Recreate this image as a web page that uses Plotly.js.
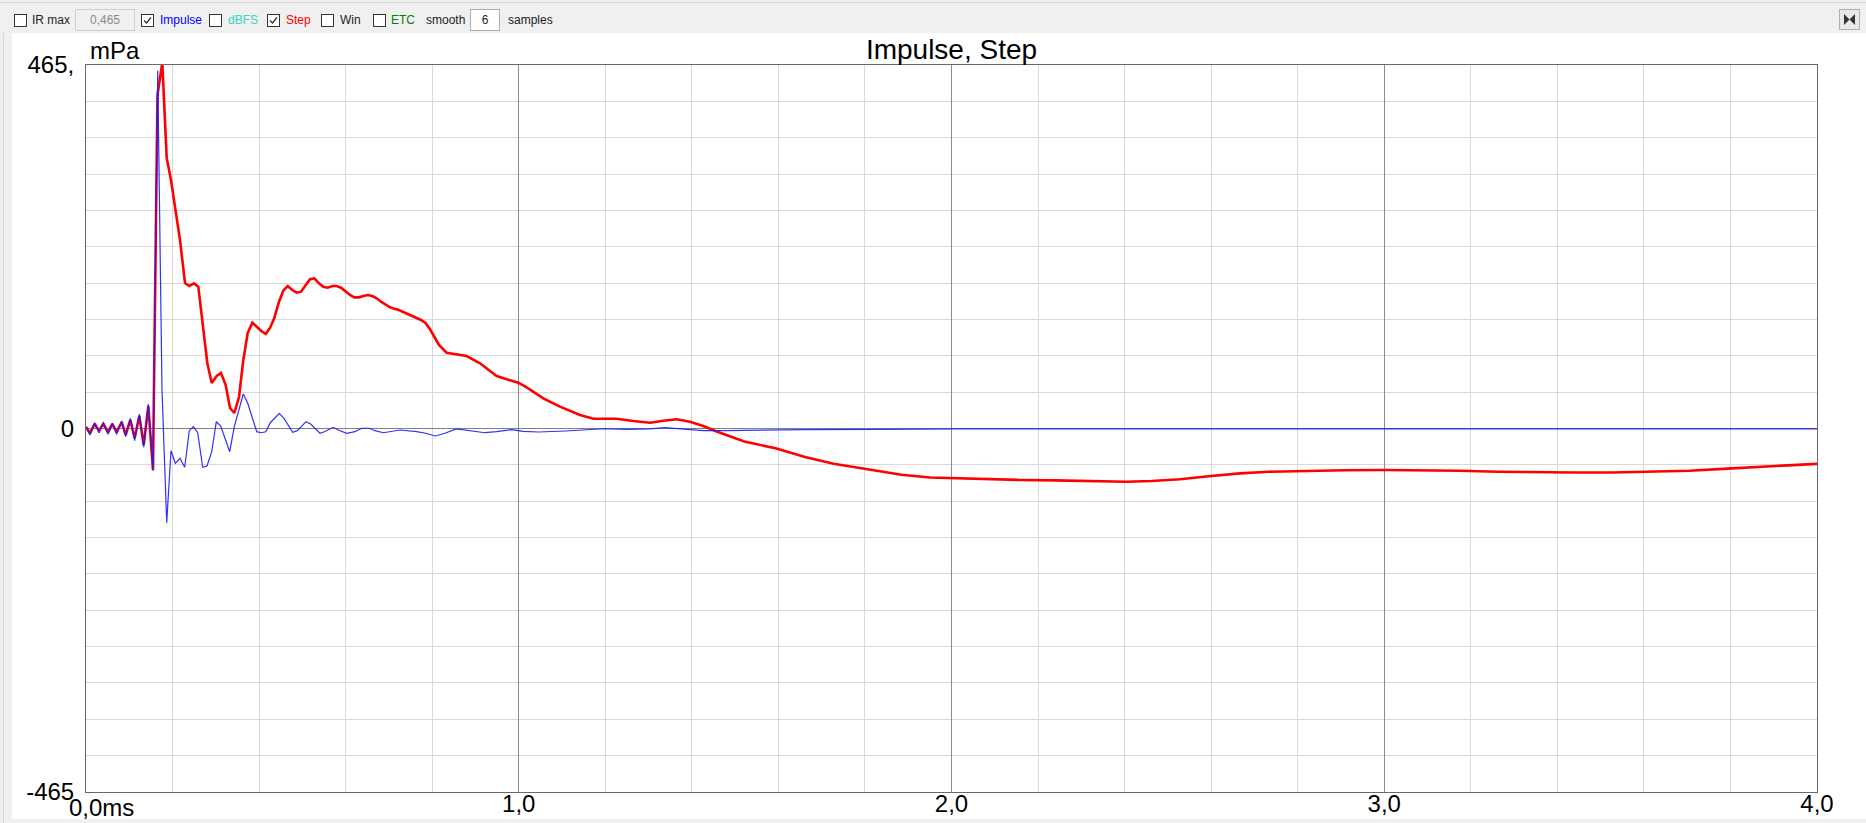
<!DOCTYPE html>
<html>
<head>
<meta charset="utf-8">
<script src="https://cdn.plot.ly/plotly-3.0.1.min.js"></script>
<style>
  html, body { margin:0; padding:0; }
  body { width:1866px; height:823px; background:#f0f0f0; position:relative; overflow:hidden;
         font-family: Arial, "Liberation Sans", sans-serif; }
  .tb { position:absolute; top:13px; font-size:12px; line-height:14px; color:#222; white-space:nowrap; }
  .cb { position:absolute; top:14px; width:11px; height:11px; border:1px solid #333; background:#fff; }
  .box { position:absolute; top:9px; height:20px; border:1px solid #adadad; font-size:12px; line-height:20px; text-align:center; }
  #panel { position:absolute; left:12px; top:33px; width:1854px; height:786px; background:#fff; }
  #chart { position:absolute; left:12px; top:33px; width:1854px; height:790px; }
</style>
</head>
<body>
<div style="position:absolute;left:0;top:2px;width:1866px;height:1px;background:#d6d6d6"></div>
<div style="position:absolute;left:3px;top:33px;width:1px;height:790px;background:#d6d6d6"></div>

<div class="cb" style="left:14px"></div><div class="tb" style="left:32px">IR max</div>
<div class="box" style="left:75px;width:58px;background:#f0f0f0;color:#8a8a8a;border-color:#cfcfcf">0,465</div>
<div class="cb" style="left:141px"><svg width="11" height="11" style="position:absolute;left:0;top:0"><polyline points="2,5.5 4.5,8 9,2.5" fill="none" stroke="#333" stroke-width="1.3"/></svg></div>
<div class="tb" style="left:160px;color:#0000ff">Impulse</div>
<div class="cb" style="left:209px"></div><div class="tb" style="left:228px;color:#40d0c8">dBFS</div>
<div class="cb" style="left:267px"><svg width="11" height="11" style="position:absolute;left:0;top:0"><polyline points="2,5.5 4.5,8 9,2.5" fill="none" stroke="#333" stroke-width="1.3"/></svg></div>
<div class="tb" style="left:286px;color:#ff0000">Step</div>
<div class="cb" style="left:321px"></div><div class="tb" style="left:340px">Win</div>
<div class="cb" style="left:373px"></div><div class="tb" style="left:391px;color:#008000">ETC</div>
<div class="tb" style="left:426px">smooth</div>
<div class="box" style="left:470px;width:28px;background:#fff;color:#222">6</div>
<div class="tb" style="left:508px">samples</div>
<div style="position:absolute;left:1839px;top:9px;width:19px;height:19px;border:1px solid #b0b0b0;background:#e8e8e8">
  <svg width="19" height="19"><polygon points="4,4 9.5,9.5 4,15" fill="#333"/><polygon points="15,4 9.5,9.5 15,15" fill="#333"/></svg>
</div>

<div id="panel"></div>
<div id="chart"></div>

<script>
// Step response (mPa) vs time (ms)
const stepTimeMs = [0.000,0.0092,0.0201,0.0300,0.0400,0.0508,0.0608,0.0709,0.0825,0.0917,0.1024,0.1125,0.1232,0.1333,0.1440,0.1548,0.1652,0.1763,0.1865,0.1964,0.2172,0.2288,0.2387,0.2496,0.2595,0.2711,0.2803,0.2905,0.3020,0.3120,0.3228,0.3328,0.3427,0.3536,0.3635,0.3737,0.3843,0.3945,0.4044,0.4153,0.4252,0.4351,0.4460,0.4559,0.4661,0.4767,0.4869,0.4968,0.5077,0.5176,0.5276,0.5384,0.5484,0.5585,0.5692,0.5793,0.5893,0.6001,0.6101,0.6200,0.6309,0.6408,0.6510,0.6616,0.6718,0.6817,0.6925,0.7025,0.7124,0.7233,0.7332,0.7434,0.7540,0.7642,0.7741,0.7850,0.7949,0.8049,0.8157,0.8335,0.8566,0.8797,0.9104,0.9490,0.9722,0.9990,1.0184,1.0567,1.0953,1.1415,1.1723,1.2263,1.2647,1.3033,1.3340,1.3650,1.3957,1.4265,1.4574,1.5212,1.5954,1.6615,1.7276,1.8017,1.8842,1.9503,1.9998,2.0742,2.1567,2.2392,2.3216,2.4041,2.4619,2.5280,2.5941,2.6667,2.7321,2.8203,2.9088,2.9999,3.0859,3.1742,3.2626,3.3511,3.4394,3.5279,3.6164,3.7047,3.7932,3.8817,4.0000];
const stepMPa = [2,-6,6,-3,6,-4.5,6,-4.5,8.3,-8.3,10.9,-12.2,16,-21.1,28.8,-53.1,426.6,468,346,317.9,241.1,186.1,182.3,185.7,181.4,122.2,83.8,58.2,67.2,71,55.6,26.2,19.8,40.3,87.6,122.2,135.3,130.2,125.1,120.9,128.6,141.4,162.2,176.3,182.3,177.2,173.7,175,183.6,190.9,192.1,185.7,181.4,180.1,182.3,182.3,180.1,175,170.8,167.8,167.8,169.5,170.8,169.5,166.6,162.2,158,155,153.2,151.6,149,146.5,143.9,141.7,138.8,134.6,126.9,117.4,106.8,97,94.9,92.7,83.4,67.2,62.9,58.6,52.7,38.6,27.9,17.3,12.5,12.5,9.6,7.4,10,11.8,8.7,3.2,-3.8,-16.6,-25.5,-36.5,-45.2,-51.8,-59.2,-62.7,-63.6,-64.5,-65.8,-66.3,-67.5,-68.1,-67.2,-65,-61,-57.4,-55.3,-54,-53.5,-53.1,-53.1,-54,-55.3,-56.2,-56.2,-56.2,-55.3,-54,-51.3,-48.7,-45.2];

// Impulse response (mPa) vs time (ms)
const impulseTimeMs = [0.000,0.0092,0.0201,0.0300,0.0400,0.0508,0.0608,0.0709,0.0825,0.0917,0.1024,0.1125,0.1232,0.1333,0.1440,0.1548,0.1657,0.1756,0.1865,0.1964,0.2064,0.2172,0.2281,0.2387,0.2480,0.2581,0.2697,0.2796,0.2905,0.3011,0.3113,0.3219,0.3321,0.3427,0.3536,0.3635,0.3737,0.3843,0.3945,0.4051,0.4153,0.4259,0.4467,0.4575,0.4675,0.4776,0.4883,0.5084,0.5192,0.5292,0.5407,0.5507,0.5715,0.5830,0.6024,0.6216,0.6371,0.6547,0.6678,0.6870,0.7101,0.7256,0.7642,0.7850,0.8072,0.8293,0.8559,0.8869,0.9220,0.9486,0.9839,1.0105,1.0459,1.1078,1.1522,1.1963,1.2495,1.3024,1.3377,1.3821,1.4262,1.4794,1.5677,1.6562,1.8329,2.0099,3.0000,4.0000];
const impulseMPa = [2.3,-8.3,7.4,-5.4,7.4,-7.4,6.7,-7.4,9.6,-10.5,13,-15.6,18.5,-24,31.3,-54,457.7,49.2,-120.5,-28.4,-44.5,-38.1,-49.6,-2.8,2.3,-5.4,-49.6,-48,-29.7,8.7,3.2,-12.5,-29.7,2.3,24.6,44.1,32.2,15.1,-4.1,-5.4,-4.1,7.4,19.4,13,4.5,-4.9,-2.8,8.7,5.8,0.3,-6.1,-4.1,1.5,-1.9,-6.1,-4.1,0.3,0.3,-2.8,-5.4,-2.8,-1.9,-4.1,-6.1,-9.6,-6.1,-0.6,-3.2,-5.4,-4.1,-1.5,-3.6,-4.5,-3.2,-1.9,-0.3,-1,-0.6,1,-1,-2.8,-2.8,-1.9,-1.5,-1,-0.6,-0.6,-0.4];

// Axis ticks
const xTickVals = [0, 1, 2, 3, 4];
const xTickText = ['', '1,0', '2,0', '3,0', '4,0'];
const yTickVals = [-465, 0, 465];
const yTickText = ['-465', '0', '465,'];

const FONT = 'Arial, "Liberation Sans", sans-serif';

const traces = [
  { x: stepTimeMs, y: stepMPa, type: 'scatter', mode: 'lines', name: 'Step',
    line: { color: '#ff0000', width: 2.6 }, hoverinfo: 'skip' },
  { x: impulseTimeMs, y: impulseMPa, type: 'scatter', mode: 'lines', name: 'Impulse',
    line: { color: '#1a1aff', width: 1.2 }, opacity: 0.9, hoverinfo: 'skip' }
];

const layout = {
  width: 1854, height: 790,
  margin: { l: 74, r: 49, t: 32, b: 31, pad: 0 },
  paper_bgcolor: 'rgba(0,0,0,0)', plot_bgcolor: '#ffffff',
  showlegend: false,
  font: { family: FONT, color: '#000' },
  title: { text: 'Impulse, Step', font: { family: FONT, size: 28, color: '#000' },
           x: 0.5, xref: 'paper', xanchor: 'center', y: 1 - 16/790, yref: 'container', yanchor: 'middle' },
  xaxis: {
    range: [0, 4], tickmode: 'array', tickvals: xTickVals, ticktext: xTickText,
    showgrid: true, gridcolor: '#8c8c8c', gridwidth: 1,
    minor: { tickmode: 'linear', tick0: 0, dtick: 0.2, showgrid: true, gridcolor: '#d9d9d9', gridwidth: 1, ticks: '' },
    ticks: '', ticklabelstandoff: -10,
    tickfont: { family: FONT, size: 24, color: '#000' },
    zeroline: false, showline: true, mirror: true, linecolor: '#6a6a6a', linewidth: 1, fixedrange: true
  },
  yaxis: {
    range: [-465, 465], tickmode: 'array', tickvals: yTickVals, ticktext: yTickText,
    showgrid: true, gridcolor: '#8c8c8c', gridwidth: 1,
    minor: { tickmode: 'linear', tick0: 0, dtick: 46.5, showgrid: true, gridcolor: '#d9d9d9', gridwidth: 1, ticks: '' },
    ticks: '', ticklabelstandoff: 6,
    tickfont: { family: FONT, size: 24, color: '#000' },
    zeroline: true, zerolinecolor: '#808080', zerolinewidth: 1,
    showline: true, mirror: true, linecolor: '#6a6a6a', linewidth: 1, fixedrange: true
  },
  annotations: [
    { text: 'mPa', xref: 'paper', yref: 'paper', x: 0, y: 1, xanchor: 'left', yanchor: 'middle',
      xshift: 2, yshift: 15, showarrow: false, font: { family: FONT, size: 24, color: '#000' } },
    { text: '0,0ms', xref: 'paper', yref: 'paper', x: 0, y: 0, xanchor: 'left', yanchor: 'middle',
      xshift: -19, yshift: -15, showarrow: false, font: { family: FONT, size: 24, color: '#000' } }
  ]
};

Plotly.newPlot('chart', traces, layout, { displayModeBar: false, staticPlot: true });
</script>
</body>
</html>
